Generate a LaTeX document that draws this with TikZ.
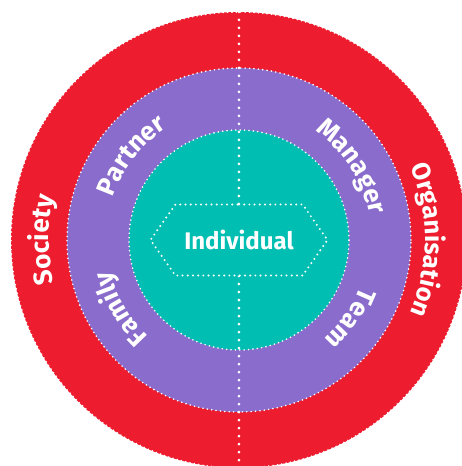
\documentclass[tikz,border=0pt]{standalone}
\usepackage{fontspec}
\setmainfont{Fira Sans}
\usetikzlibrary{positioning}
\usetikzlibrary{shapes.symbols}
\usetikzlibrary{decorations.text}
\definecolor{ringred}{RGB}{237,28,46}
\definecolor{ringpurple}{RGB}{138,108,204}
\definecolor{ringteal}{RGB}{0,190,178}
\tikzset{
    dotrim/.style={white, line width=1.8pt, line cap=round, dash pattern=on 0pt off 4.4pt},
    dotaxis/.style={white, line width=3pt, line cap=round, dash pattern=on 0pt off 8pt},
    hexbox/.style={shape=signal, signal to=east and west, signal pointer angle=110,
        fill=ringteal, draw=white, line width=2.2pt, line cap=round, dash pattern=on 0pt off 5.2pt,
        minimum width=177pt, minimum height=71pt, inner xsep=0pt,
        text=white, font=\bfseries\fontsize{24}{24}\selectfont},
    arclabel/.style 2 args={decorate, decoration={text along path, text align=center, text color=white,
        text={|\bfseries\fontsize{#1}{#1}\selectfont|#2}}}
}
\begin{document}
\begin{tikzpicture}[x=1pt, y=1pt]
    \useasboundingbox (-239,-226) rectangle (223,240);
    \fill[ringred] (0,0) circle (228pt);
    \draw[dotrim] (0,0) circle (228pt);
    \fill[ringpurple] (0,0) circle (172pt);
    \draw[dotrim] (0,0) circle (172pt);
    \fill[ringteal] (0,0) circle (110pt);
    \draw[dotrim] (0,0) circle (110pt);

    \coordinate (top) at (90:228);
    \coordinate (bot) at (270:228);
    \draw[dotaxis] (top) -- (bot);

    \node[hexbox] (ind) at (0,0) {Individual};

    \path[arclabel={26}{Society}] (240:190) arc[start angle=240, end angle=120, radius=190pt];
    \path[arclabel={25.5}{Organisation}] (60:186) arc[start angle=60, end angle=-60, radius=186pt];
    \path[arclabel={26}{Partner}] (190:133) arc[start angle=190, end angle=94, radius=133pt];
    \path[arclabel={26}{Manager}] (82:133) arc[start angle=82, end angle=-16, radius=133pt];
    \path[arclabel={26}{Family}] (258:132) arc[start angle=258, end angle=162, radius=132pt];
    \path[arclabel={26}{Team}] (7:130) arc[start angle=7, end angle=-77, radius=130pt];
\end{tikzpicture}
\end{document}
